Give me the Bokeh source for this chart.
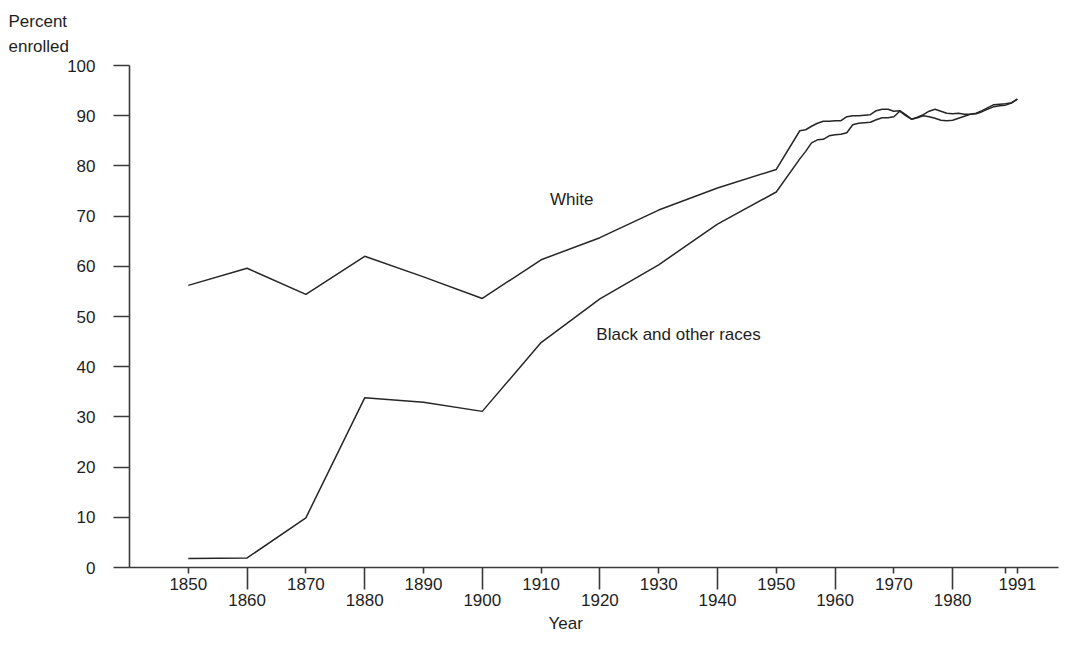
from bokeh.plotting import figure
from bokeh.models import FixedTicker, LinearAxis, Range1d, Label, Title
from bokeh.embed import file_html
from bokeh.resources import INLINE

# ---------------- data ----------------
years = [1850, 1860, 1870, 1880, 1890, 1900, 1910, 1920, 1930, 1940, 1950] + list(range(1954, 1992))

white = [56.2, 59.6, 54.4, 62.0, 57.9, 53.6, 61.3, 65.7, 71.2, 75.6, 79.3,
         87.0, 87.2, 87.9, 88.5, 88.9, 88.9, 89.0, 89.0, 89.8, 90.0,
         90.0, 90.1, 90.2, 91.0, 91.3, 91.3, 90.9, 91.0, 90.2, 89.3,
         89.7, 90.2, 90.9, 91.3, 90.9, 90.5, 90.4, 90.5, 90.3, 90.3,
         90.5, 91.0, 91.6, 92.2, 92.3, 92.4, 92.6, 93.3]

black = [1.8, 1.9, 9.9, 33.8, 32.9, 31.1, 44.8, 53.5, 60.3, 68.4, 74.8,
         81.4, 82.9, 84.6, 85.2, 85.3, 86.0, 86.2, 86.3, 86.6, 88.2,
         88.5, 88.6, 88.7, 89.2, 89.6, 89.6, 89.8, 90.9, 90.0, 89.3,
         89.6, 90.0, 89.8, 89.5, 89.1, 89.0, 89.1, 89.5, 89.9, 90.3,
         90.4, 90.8, 91.3, 91.8, 92.0, 92.1, 92.5, 93.3]

x_ticks_upper = [1850, 1870, 1890, 1910, 1930, 1950, 1970, 1989, 1991]
x_ticks_lower = [1860, 1880, 1900, 1920, 1940, 1960, 1980]
y_ticks = [0, 10, 20, 30, 40, 50, 60, 70, 80, 90, 100]

series_labels = ["White", "Black and other races"]
y_title = "Percent\nenrolled"
x_title = "Year"

# ---------------- style ----------------
FONT = "Liberation Sans"
FS = "17px"
AX = "#3a3a3a"
TXT = "#1e1e1e"
LINE = "#262626"

p = figure(width=1060, height=635,
           x_range=Range1d(1840, 1998), y_range=Range1d(0, 100),
           output_backend="svg", toolbar_location=None,
           min_border_left=129, min_border_right=2,
           min_border_top=65, min_border_bottom=68)
p.grid.visible = False
p.outline_line_color = None
p.background_fill_color = "white"
p.border_fill_color = "white"

# y-axis title at top-left (plot title)
p.title.text = y_title
p.title.align = "left"
p.title.offset = -121
p.title.standoff = 18
p.title.text_font = FONT
p.title.text_font_size = FS
p.title.text_font_style = "normal"
p.title.text_color = TXT
p.title.text_line_height = 1.32

# y axis
ya = p.yaxis[0]
ya.ticker = FixedTicker(ticks=y_ticks)
ya.axis_line_color = AX
ya.axis_line_width = 1.6
ya.major_tick_line_color = AX
ya.major_tick_line_width = 1.6
ya.major_tick_out = 16
ya.major_tick_in = 0
ya.minor_tick_line_color = None
ya.major_label_standoff = 18
ya.major_label_text_font = FONT
ya.major_label_text_font_size = FS
ya.major_label_text_color = TXT

# x axis: upper row of labels, short ticks; long minor ticks at even decades
xa = p.xaxis[0]
xa.ticker = FixedTicker(ticks=x_ticks_upper, minor_ticks=x_ticks_lower)
xa.major_label_overrides = {1989: ""}
xa.axis_line_color = AX
xa.axis_line_width = 1.6
xa.major_tick_line_color = AX
xa.major_tick_line_width = 1.6
xa.major_tick_out = 6
xa.major_tick_in = 0
xa.minor_tick_line_color = AX
xa.minor_tick_line_width = 1.6
xa.minor_tick_out = 22
xa.minor_tick_in = 0
xa.major_label_standoff = -12
xa.major_label_text_font = FONT
xa.major_label_text_font_size = FS
xa.major_label_text_color = TXT

# x axis: lower row of labels
xb = LinearAxis(ticker=FixedTicker(ticks=x_ticks_lower))
xb.axis_line_color = None
xb.major_tick_line_color = None
xb.major_tick_out = 0
xb.major_tick_in = 0
xb.minor_tick_line_color = None
xb.major_label_standoff = 1
xb.major_label_text_font = FONT
xb.major_label_text_font_size = FS
xb.major_label_text_color = TXT
p.add_layout(xb, "below")

# x-axis title
p.add_layout(Title(text=x_title, align="left", offset=419, standoff=6,
                   text_font=FONT, text_font_size=FS, text_font_style="normal",
                   text_color=TXT), "below")

# lines
p.line(years, white, line_color=LINE, line_width=1.5)
p.line(years, black, line_color=LINE, line_width=1.5)

# series labels
p.add_layout(Label(x=1911.5, y=73.3, text=series_labels[0], text_font=FONT,
                   text_font_size=FS, text_color=TXT, text_baseline="middle", text_align="left"))
p.add_layout(Label(x=1919.4, y=46.4, text=series_labels[1], text_font=FONT,
                   text_font_size=FS, text_color=TXT, text_baseline="middle", text_align="left"))

open("out.html", "w").write(file_html(p, INLINE))
